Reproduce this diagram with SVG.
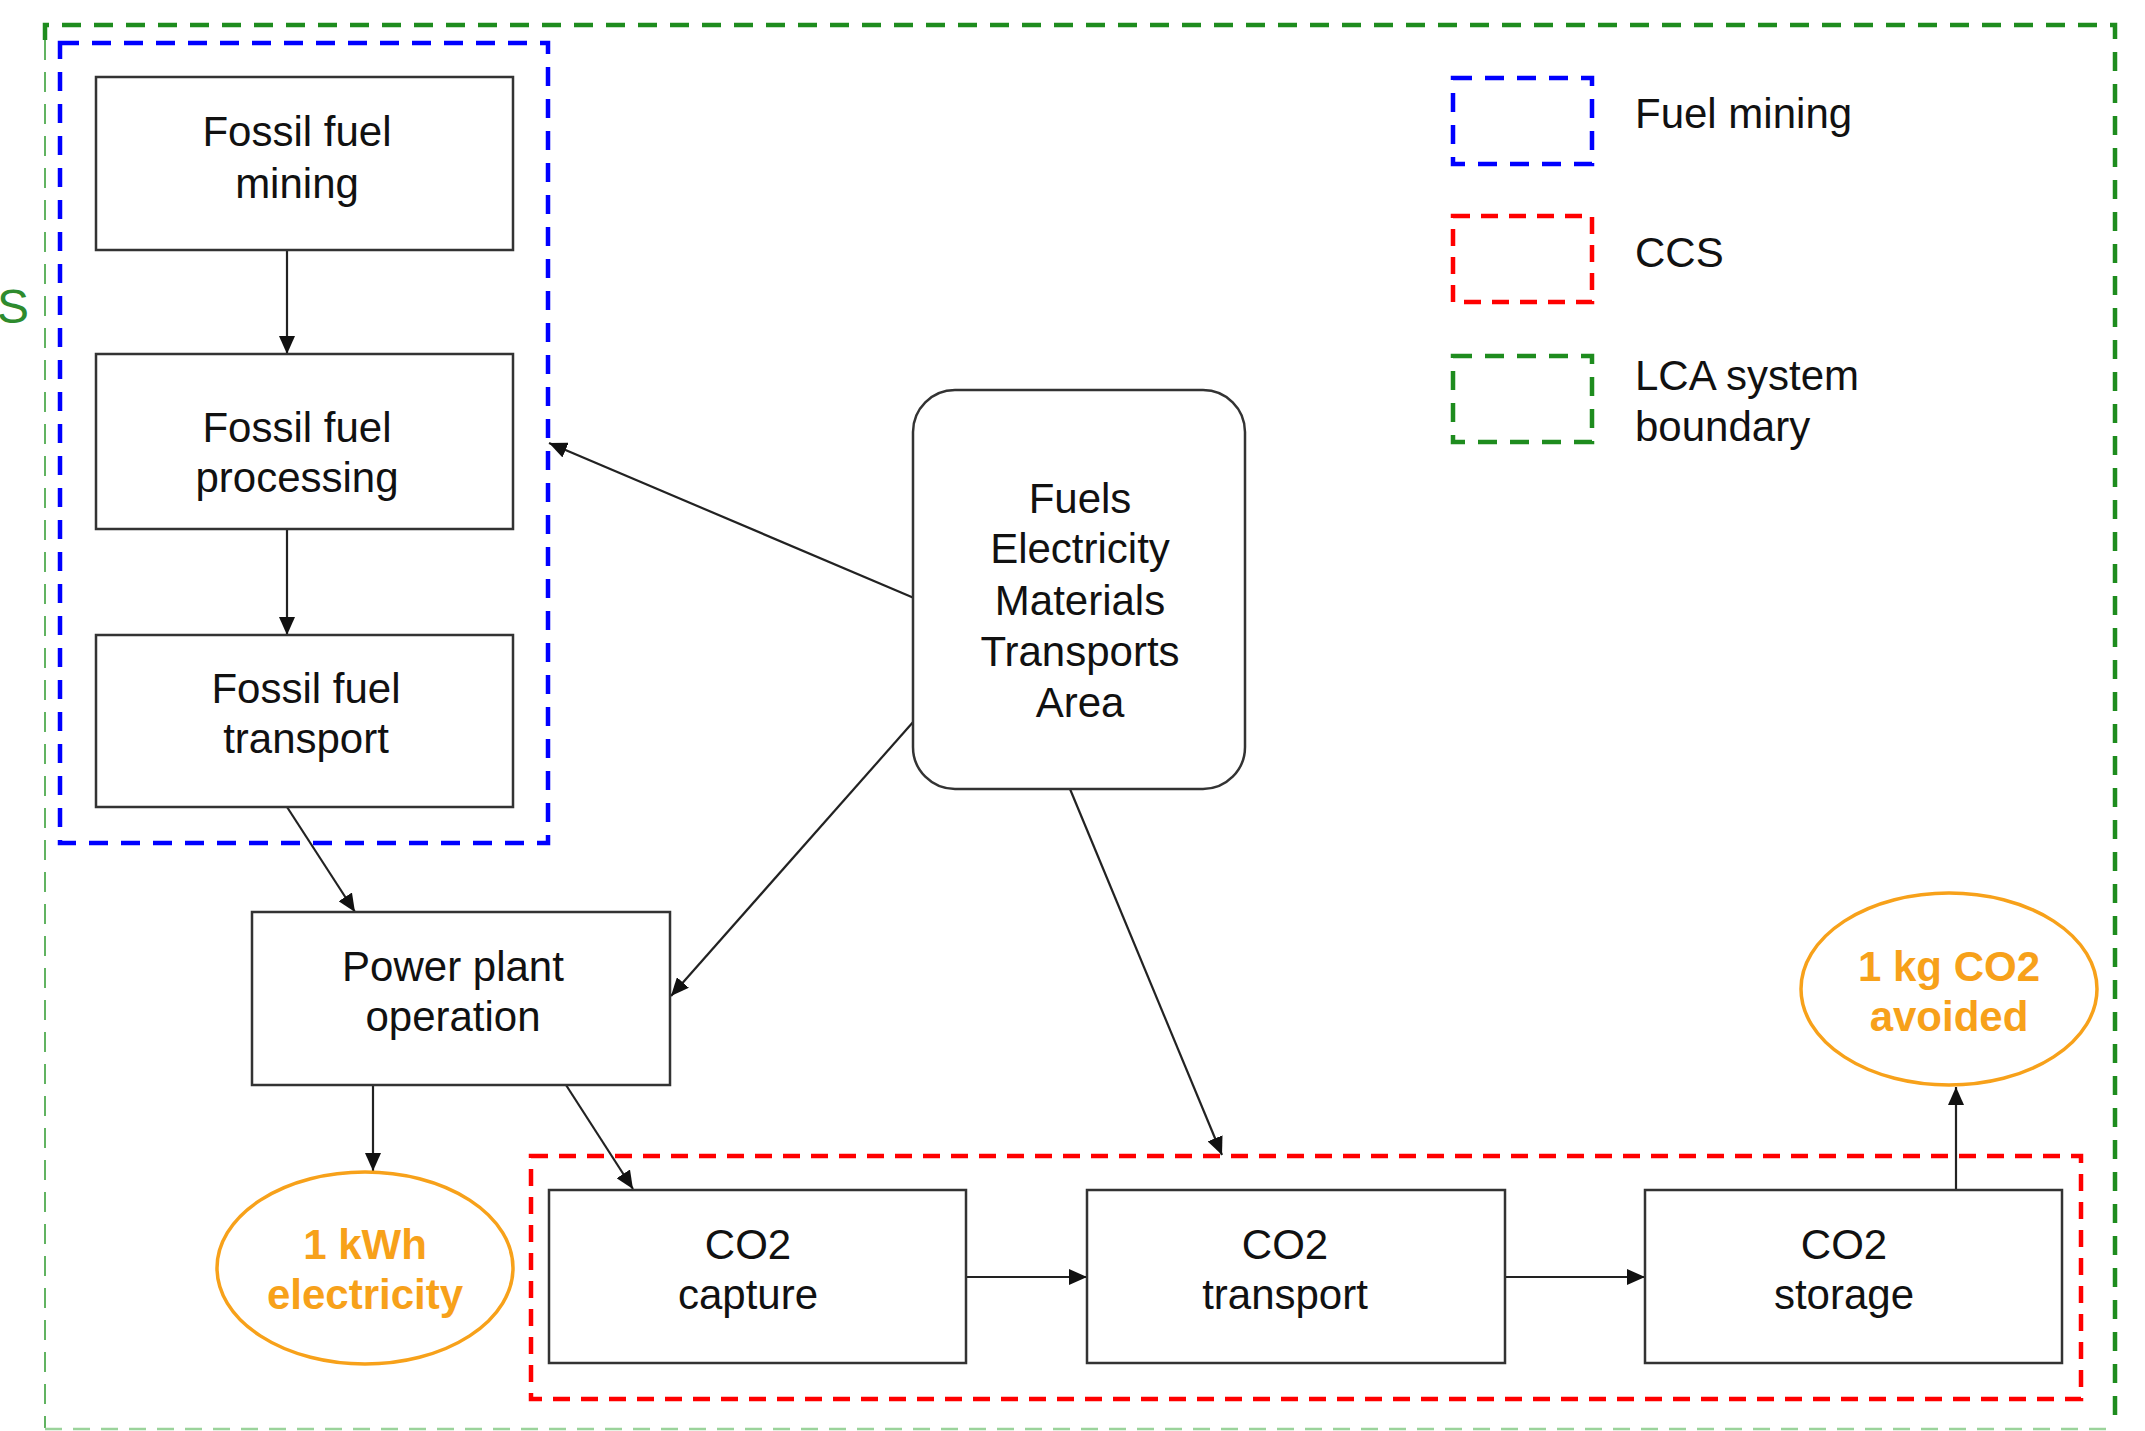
<svg xmlns="http://www.w3.org/2000/svg" width="2145" height="1431" viewBox="0 0 2145 1431">
<defs>
<marker id="ah" markerUnits="userSpaceOnUse" markerWidth="19" markerHeight="16" refX="18" refY="8" orient="auto">
<path d="M0,0 L18,8 L0,16 z" fill="#111"/>
</marker>
<style>
.box{fill:#fff;stroke:#333;stroke-width:2.5}
.t{font-family:"Liberation Sans",Arial,sans-serif;font-size:42px;fill:#111;text-anchor:middle}
.lt{font-family:"Liberation Sans",Arial,sans-serif;font-size:42px;fill:#111}
.o{font-family:"Liberation Sans",Arial,sans-serif;font-size:42px;font-weight:bold;fill:#F7A11A;text-anchor:middle}
.ell{fill:#fff;stroke:#F7A11A;stroke-width:3.5}
.con{fill:none;stroke:#222;stroke-width:2.2;marker-end:url(#ah)}
.blue{fill:none;stroke:#0000FF;stroke-width:4.5;stroke-dasharray:19 13}
.red{fill:none;stroke:#FF0000;stroke-width:4.5;stroke-dasharray:17 11}
.green{fill:none;stroke:#1E8C1E;stroke-width:4.5;stroke-dasharray:19 13}
</style>
</defs>
<rect width="2145" height="1431" fill="#fff"/>

<g id="boundaries">
<path class="green" d="M45,40 L45,25 L2115,25 L2115,1428"/>
<path d="M45,40 L45,1428" fill="none" stroke="#2E9A2E" stroke-width="1.5" stroke-dasharray="20 12"/>
<path d="M45,1429 L2115,1429" fill="none" stroke="#9BD39B" stroke-width="2.5" stroke-dasharray="17 11"/>
<rect id="fuel-mining-boundary" class="blue" x="60" y="43" width="488" height="800"/>
<rect id="ccs-boundary" class="red" x="531" y="1156" width="1550" height="243"/>
<text x="-3" y="323" font-family="'Liberation Sans',Arial,sans-serif" font-size="48" fill="#2E8B2E">S</text>
</g>

<g id="legend">
<rect class="blue" x="1453" y="78" width="139" height="86"/>
<rect class="red" x="1453" y="216" width="139" height="86"/>
<rect class="green" x="1453" y="356" width="139" height="86"/>
<text class="lt" x="1635" y="128">Fuel mining</text>
<text class="lt" x="1635" y="267">CCS</text>
<text class="lt" x="1635" y="390">LCA system</text>
<text class="lt" x="1635" y="441">boundary</text>
</g>

<g id="connectors">
<line class="con" x1="287" y1="250" x2="287" y2="354"/>
<line class="con" x1="287" y1="529" x2="287" y2="635"/>
<line class="con" x1="914" y1="598" x2="549" y2="443"/>
<line class="con" x1="914" y1="721" x2="671" y2="996"/>
<line class="con" x1="1070" y1="789" x2="1222" y2="1155"/>
<line class="con" x1="287" y1="807" x2="355" y2="912"/>
<line class="con" x1="373" y1="1085" x2="373" y2="1171"/>
<line class="con" x1="566" y1="1085" x2="633" y2="1189"/>
<line class="con" x1="966" y1="1277" x2="1087" y2="1277"/>
<line class="con" x1="1505" y1="1277" x2="1645" y2="1277"/>
<line class="con" x1="1956" y1="1189" x2="1956" y2="1087"/>
</g>

<g id="fossil-fuel-mining">
<rect class="box" x="96" y="77" width="417" height="173"/>
<text class="t" x="297" y="146">Fossil fuel</text>
<text class="t" x="297" y="198">mining</text>
</g>

<g id="fossil-fuel-processing">
<rect class="box" x="96" y="354" width="417" height="175"/>
<text class="t" x="297" y="442">Fossil fuel</text>
<text class="t" x="297" y="492">processing</text>
</g>

<g id="fossil-fuel-transport">
<rect class="box" x="96" y="635" width="417" height="172"/>
<text class="t" x="306" y="703">Fossil fuel</text>
<text class="t" x="306" y="753">transport</text>
</g>

<g id="inputs">
<rect class="box" x="913" y="390" width="332" height="399" rx="42" ry="42"/>
<text class="t" x="1080" y="513">Fuels</text>
<text class="t" x="1080" y="563">Electricity</text>
<text class="t" x="1080" y="615">Materials</text>
<text class="t" x="1080" y="666">Transports</text>
<text class="t" x="1080" y="717">Area</text>
</g>

<g id="power-plant">
<rect class="box" x="252" y="912" width="418" height="173"/>
<text class="t" x="453" y="981">Power plant</text>
<text class="t" x="453" y="1031">operation</text>
</g>

<g id="electricity">
<ellipse class="ell" cx="365" cy="1268" rx="148" ry="96"/>
<text class="o" x="365" y="1259">1 kWh</text>
<text class="o" x="365" y="1309">electricity</text>
</g>

<g id="co2-capture">
<rect class="box" x="549" y="1190" width="417" height="173"/>
<text class="t" x="748" y="1259">CO2</text>
<text class="t" x="748" y="1309">capture</text>
</g>

<g id="co2-transport">
<rect class="box" x="1087" y="1190" width="418" height="173"/>
<text class="t" x="1285" y="1259">CO2</text>
<text class="t" x="1285" y="1309">transport</text>
</g>

<g id="co2-storage">
<rect class="box" x="1645" y="1190" width="417" height="173"/>
<text class="t" x="1844" y="1259">CO2</text>
<text class="t" x="1844" y="1309">storage</text>
</g>

<g id="co2-avoided">
<ellipse class="ell" cx="1949" cy="989" rx="148" ry="96"/>
<text class="o" x="1949" y="981">1 kg CO2</text>
<text class="o" x="1949" y="1031">avoided</text>
</g>
</svg>
